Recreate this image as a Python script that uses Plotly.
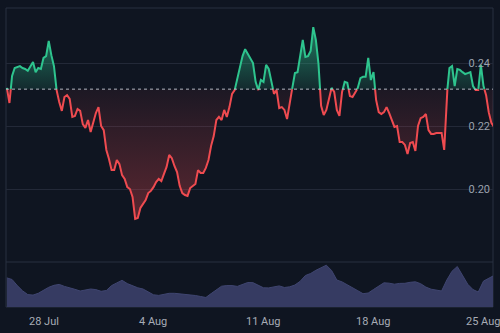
import numpy as np
import pandas as pd
import plotly.graph_objects as go

# ---- data ----
price = [0.2321, 0.2273, 0.2359, 0.2384, 0.2387, 0.2390, 0.2384, 0.2381, 0.2375, 0.2390,
         0.2403, 0.2371, 0.2384, 0.2381, 0.2416, 0.2422, 0.2470, 0.2425, 0.2390, 0.2314,
         0.2276, 0.2248, 0.2292, 0.2298, 0.2286, 0.2229, 0.2232, 0.2254, 0.2248, 0.2206,
         0.2194, 0.2219, 0.2181, 0.2216, 0.2241, 0.2260, 0.2200, 0.2187, 0.2124, 0.2095,
         0.2060, 0.2060, 0.2092, 0.2079, 0.2044, 0.2032, 0.2006, 0.2000, 0.1975, 0.1905,
         0.1908, 0.1940, 0.1952, 0.1965, 0.1987, 0.1994, 0.2006, 0.2022, 0.2032, 0.2025,
         0.2048, 0.2070, 0.2108, 0.2098, 0.2073, 0.2054, 0.2010, 0.1987, 0.1981, 0.1978,
         0.2003, 0.2010, 0.2016, 0.2060, 0.2051, 0.2051, 0.2067, 0.2092, 0.2137, 0.2168,
         0.2219, 0.2229, 0.2219, 0.2251, 0.2229, 0.2260, 0.2302, 0.2314, 0.2349, 0.2378,
         0.2422, 0.2444, 0.2429, 0.2416, 0.2400, 0.2340, 0.2314, 0.2346, 0.2340, 0.2394,
         0.2381, 0.2343, 0.2302, 0.2314, 0.2257, 0.2260, 0.2251, 0.2222, 0.2267, 0.2321,
         0.2368, 0.2371, 0.2416, 0.2473, 0.2419, 0.2422, 0.2438, 0.2514, 0.2473, 0.2397,
         0.2264, 0.2235, 0.2251, 0.2286, 0.2321, 0.2308, 0.2251, 0.2232, 0.2308, 0.2340,
         0.2337, 0.2295, 0.2292, 0.2305, 0.2321, 0.2352, 0.2356, 0.2356, 0.2416, 0.2346,
         0.2371, 0.2283, 0.2244, 0.2238, 0.2244, 0.2260, 0.2241, 0.2216, 0.2197, 0.2200,
         0.2149, 0.2149, 0.2140, 0.2111, 0.2146, 0.2149, 0.2121, 0.2200, 0.2225, 0.2229,
         0.2238, 0.2187, 0.2175, 0.2175, 0.2178, 0.2178, 0.2178, 0.2124, 0.2298, 0.2384,
         0.2390, 0.2327, 0.2381, 0.2378, 0.2371, 0.2365, 0.2368, 0.2371, 0.2327, 0.2314,
         0.2314, 0.2394, 0.2327, 0.2298, 0.2244, 0.2210, 0.2197]

volume = [29.1, 27.5, 21.4, 16.2, 12.4, 11.9, 13.7, 17.1, 19.7, 21.7,
          22.6, 20.6, 19.4, 17.7, 16.0, 17.1, 18.0, 17.4, 15.7, 16.5,
          21.4, 24.1, 26.7, 23.4, 21.0, 19.2, 18.0, 15.0, 12.2, 11.6,
          12.8, 13.7, 13.7, 13.3, 13.0, 12.3, 11.5, 10.5, 9.5, 13.4,
          17.2, 20.8, 21.4, 21.4, 20.6, 22.3, 24.5, 24.3, 21.5, 19.2,
          19.1, 20.1, 21.1, 19.5, 20.2, 22.0, 25.7, 31.5, 33.5, 36.7,
          39.3, 41.8, 36.5, 27.0, 25.1, 22.4, 19.8, 16.3, 13.3, 14.0,
          17.5, 21.2, 24.2, 23.8, 22.8, 23.6, 23.7, 24.7, 25.2, 23.3,
          19.9, 17.8, 16.7, 16.0, 27.0, 35.8, 40.5, 31.0, 22.7, 17.4,
          15.0, 25.9, 28.4, 31.5]

baseline = 0.2317
price_start = "2024-07-25 16:00"
price_step = "4h"
volume_step = "8h"
x_range = ["2024-07-25 14:44", "2024-08-25 14:32"]
tick_dates = ["2024-07-28", "2024-08-04", "2024-08-11", "2024-08-18", "2024-08-25"]
tick_text = ["28 Jul", "4 Aug", "11 Aug", "18 Aug", "25 Aug"]
price_ticks = [0.20, 0.22, 0.24]
price_tick_text = ["0.20", "0.22", "0.24"]

# ---- styling ----
BG = "#0f1521"
GREEN = "#2ec48e"
RED = "#ef4b50"
GRID = "#232938"
VOL = "#363b62"

t = pd.date_range(price_start, periods=len(price), freq=price_step)
vt = pd.date_range(price_start, periods=len(volume), freq=volume_step)

# split line where it crosses the baseline (geometry only)
tn = t.asi8.astype(float)
xs, ys = [], []
for i in range(len(price)):
    xs.append(tn[i]); ys.append(price[i])
    if i < len(price) - 1 and (price[i] - baseline) * (price[i + 1] - baseline) < 0:
        f = (baseline - price[i]) / (price[i + 1] - price[i])
        xs.append(tn[i] + f * (tn[i + 1] - tn[i])); ys.append(baseline)
xs = pd.to_datetime(np.array(xs).astype("int64"))
up = [y if y >= baseline else None for y in ys]
dn = [y if y <= baseline else None for y in ys]
upfill = [max(y, baseline) for y in ys]
dnfill = [min(y, baseline) for y in ys]
base_arr = [baseline] * len(ys)

fig = go.Figure()
fig.add_trace(go.Scatter(x=xs, y=base_arr, mode="lines", line=dict(width=0),
                         hoverinfo="skip", showlegend=False))
fig.add_trace(go.Scatter(x=xs, y=upfill, mode="lines", line=dict(width=0), fill="tonexty",
                         fillgradient=dict(type="vertical", start=baseline, stop=0.250,
                                           colorscale=[[0, "rgba(46,196,142,0.12)"],
                                                       [1, "rgba(46,196,142,0.55)"]]),
                         hoverinfo="skip", showlegend=False))
fig.add_trace(go.Scatter(x=xs, y=base_arr, mode="lines", line=dict(width=0),
                         hoverinfo="skip", showlegend=False))
fig.add_trace(go.Scatter(x=xs, y=dnfill, mode="lines", line=dict(width=0), fill="tonexty",
                         fillgradient=dict(type="vertical", start=0.190, stop=baseline,
                                           colorscale=[[0, "rgba(239,75,80,0.34)"],
                                                       [1, "rgba(239,75,80,0.06)"]]),
                         hoverinfo="skip", showlegend=False))
fig.add_trace(go.Scatter(x=vt, y=volume, xaxis="x", yaxis="y2", mode="lines",
                         line=dict(width=1, color="#3f4570"), fill="tozeroy", fillcolor=VOL,
                         hoverinfo="skip", showlegend=False))
fig.add_trace(go.Scatter(x=xs, y=dn, mode="lines", connectgaps=False,
                         line=dict(width=2, color=RED), showlegend=False))
fig.add_trace(go.Scatter(x=xs, y=up, mode="lines", connectgaps=False,
                         line=dict(width=2, color=GREEN), showlegend=False))

split = 45 / 299
date_labels = [dict(x=d, y=0, xref="x", yref="paper", text=s, showarrow=False,
                    yanchor="top", xanchor="center", yshift=-6,
                    font=dict(size=11, color="#a7acb6"))
               for d, s in zip(tick_dates, tick_text)]

fig.update_layout(
    width=500, height=333,
    margin=dict(l=6, r=7, t=8, b=26),
    paper_bgcolor=BG, plot_bgcolor=BG,
    font=dict(family="Roboto, Inter, sans-serif", color="#9ba1ad", size=11),
    showlegend=False,
    xaxis=dict(range=x_range, anchor="y2", showgrid=False, zeroline=False, showline=False,
               showticklabels=False, ticks=""),
    yaxis=dict(domain=[split, 1], range=[0.17683, 0.25746], side="right", anchor="x",
               tickvals=price_ticks, ticktext=price_tick_text,
               ticklabelposition="inside", ticks="",
               showgrid=True, gridcolor=GRID, gridwidth=1, zeroline=False, showline=False,
               tickfont=dict(size=11, color="#9ba1ad")),
    yaxis2=dict(domain=[0, split], range=[0, 45], anchor="x", showgrid=False, zeroline=False,
                showticklabels=False, showline=False),
    annotations=date_labels,
    shapes=[
        dict(type="line", xref="paper", x0=0, x1=1, yref="y", y0=baseline, y1=baseline,
             line=dict(color="rgba(205,210,220,0.85)", width=1, dash="dot")),
        dict(type="line", xref="paper", x0=0, x1=1, yref="paper", y0=split, y1=split,
             line=dict(color="#283041", width=1)),
        dict(type="rect", xref="paper", x0=0, x1=1, yref="paper", y0=0, y1=1,
             line=dict(color="#283041", width=1), layer="below"),
    ],
)

fig.write_html("out.html")
